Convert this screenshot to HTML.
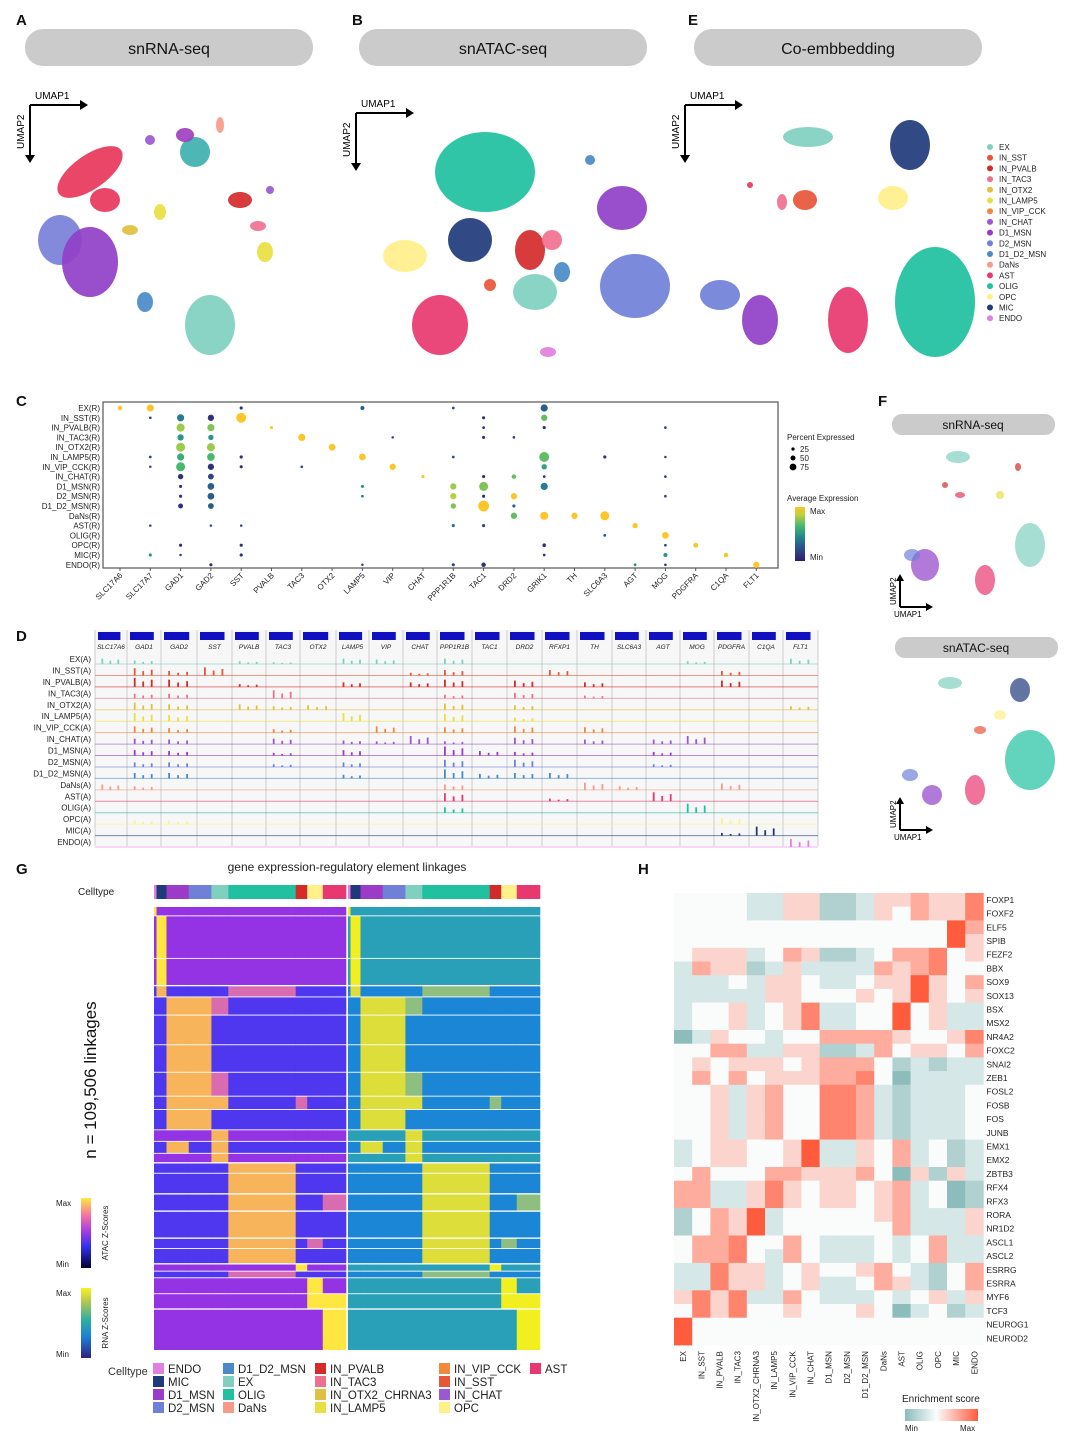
<!DOCTYPE html>
<html><head><meta charset="utf-8">
<style>
html,body{margin:0;padding:0;background:#fff;}
svg{display:block;font-family:"Liberation Sans",Arial,sans-serif;}
</style></head>
<body>
<svg id="fig" width="1080" height="1448" viewBox="0 0 1080 1448" xmlns="http://www.w3.org/2000/svg">
<g font-weight="bold" font-size="15" fill="#111">
<text x="16" y="25">A</text>
<text x="352" y="25">B</text>
<text x="688" y="25">E</text>
<text x="16" y="406">C</text>
<text x="16" y="641">D</text>
<text x="878" y="406">F</text>
<text x="16" y="874">G</text>
<text x="638" y="874">H</text>
</g>
<g font-size="16" text-anchor="middle" fill="#111">
<rect x="25" y="29" width="288" height="37" rx="18" fill="#cbcbcb"/>
<text x="169" y="54">snRNA-seq</text>
<rect x="359" y="29" width="288" height="37" rx="18" fill="#cbcbcb"/>
<text x="503" y="54">snATAC-seq</text>
<rect x="694" y="29" width="288" height="37" rx="18" fill="#cbcbcb"/>
<text x="838" y="54">Co-embbedding</text>
<rect x="892" y="414" width="163" height="21" rx="10" fill="#cbcbcb"/>
<text x="973" y="429" font-size="12">snRNA-seq</text>
<rect x="895" y="637" width="163" height="21" rx="10" fill="#cbcbcb"/>
<text x="976" y="652" font-size="12">snATAC-seq</text>
</g>
<g id="umaps"></g>
<g id="dotplot"></g>
<g id="tracks"></g>
<g id="gheat"></g>
<g id="hheat"></g>
</svg>
<script>
const NS="http://www.w3.org/2000/svg";
function mk(tag,attrs,parent,txt){const e=document.createElementNS(NS,tag);for(const k in attrs)e.setAttribute(k,attrs[k]);if(txt!==undefined)e.textContent=txt;parent.appendChild(e);return e;}
const ctColors={EX:'#80d0c0',IN_SST:'#e8563a',IN_PVALB:'#d42a2a',IN_TAC3:'#f07090',IN_OTX2:'#e0c040',IN_LAMP5:'#e8e040',IN_VIP_CCK:'#f08840',IN_CHAT:'#9b59d0',D1_MSN:'#9b3bc8',D2_MSN:'#7080d8',D1_D2_MSN:'#4a8ac8',DaNs:'#f89a88',AST:'#e83870',OLIG:'#20c0a0',OPC:'#fff08a',MIC:'#1f3a7a',ENDO:'#e080e0'};

/* ---------- UMAPs ---------- */
const umapA=[[90,172,38,17,-35,'#e8365a'],[105,200,15,12,0,'#e8365a'],[60,240,22,25,0,'#7a80d8'],[90,262,28,35,0,'#9040c8'],[210,325,25,30,0,'#80d0c0'],[195,152,15,15,0,'#40b0b0'],[185,135,9,7,0,'#a040c0'],[240,200,12,8,0,'#d42a2a'],[265,252,8,10,0,'#e8e040'],[258,226,8,5,0,'#f07090'],[220,125,4,8,0,'#f89a88'],[145,302,8,10,0,'#4a8ac8'],[160,212,6,8,0,'#e8e040'],[130,230,8,5,0,'#e0c040'],[150,140,5,5,0,'#9b59d0'],[270,190,4,4,0,'#9b59d0']];
const umapB=[[485,172,50,40,0,'#20c0a0'],[470,240,22,22,0,'#1f3a7a'],[622,208,25,22,0,'#9040c8'],[635,286,35,32,0,'#7080d8'],[440,325,28,30,0,'#e83870'],[535,292,22,18,0,'#80d0c0'],[405,256,22,16,0,'#fff08a'],[530,250,15,20,0,'#d42a2a'],[552,240,10,10,0,'#f07090'],[548,352,8,5,0,'#e080e0'],[590,160,5,5,0,'#4a8ac8'],[562,272,8,10,0,'#4a8ac8'],[490,285,6,6,0,'#e8563a']];
const umapE=[[935,302,40,55,0,'#20c0a0'],[910,145,20,25,0,'#1f3a7a'],[808,137,25,10,0,'#80d0c0'],[893,198,15,12,0,'#fff08a'],[720,295,20,15,0,'#7080d8'],[760,320,18,25,0,'#9040c8'],[848,320,20,33,0,'#e83870'],[805,200,12,10,0,'#e8563a'],[750,185,3,3,0,'#e8365a'],[782,202,5,8,0,'#f07090']];
const umapF1=[[958,457,12,6,0,'#80d0c0'],[925,565,14,16,0,'#9040c8'],[912,555,8,6,0,'#7080d8'],[985,580,10,15,0,'#e83870'],[1030,545,15,22,0,'#80d0c0'],[960,495,5,3,0,'#e8365a'],[1000,495,4,4,0,'#e8e040'],[1018,467,3,4,0,'#d42a2a'],[945,485,3,3,0,'#d42a2a']];
const umapF2=[[1020,690,10,12,0,'#1f3a7a'],[950,683,12,6,0,'#80d0c0'],[1030,760,25,30,0,'#20c0a0'],[975,790,10,15,0,'#e83870'],[932,795,10,10,0,'#9040c8'],[910,775,8,6,0,'#7080d8'],[980,730,6,4,0,'#e8563a'],[1000,715,6,5,0,'#fff08a']];
const U=document.getElementById('umaps');
function drawBlobs(list,name,op){const g=mk('g',{},U);


list.forEach(b=>{const e=mk('ellipse',{cx:b[0],cy:b[1],rx:b[2],ry:b[3],transform:`rotate(${b[4]} ${b[0]} ${b[1]})`,fill:b[5],opacity:op},g);

});}
drawBlobs(umapA,'umap-snrna',0.92);drawBlobs(umapB,'umap-snatac',0.92);drawBlobs(umapE,'umap-coembed',0.92);drawBlobs(umapF1,'umap-f-snrna',0.7);drawBlobs(umapF2,'umap-f-snatac',0.7);
function axes(x,y,len,up,fs){const g=mk('g',{stroke:'#000','stroke-width':2},U);


if(!up){mk('line',{x1:x,y1:y,x2:x+len,y2:y},g);mk('line',{x1:x,y1:y,x2:x,y2:y+len},g);
mk('polygon',{points:`${x+len+6},${y} ${x+len-2},${y-5} ${x+len-2},${y+5}`,fill:'#000',stroke:'none'},g);
mk('polygon',{points:`${x},${y+len+6} ${x-5},${y+len-2} ${x+5},${y+len-2}`,fill:'#000',stroke:'none'},g);
const t1=mk('text',{x:x+5,y:y-6,'font-size':fs,stroke:'none',fill:'#000'},U,'UMAP1');


const t2=mk('text',{x:0,y:0,'font-size':fs,stroke:'none',fill:'#000',transform:`translate(${x-6},${y+len-8}) rotate(-90)`},U,'UMAP2');

}
else{mk('line',{x1:x,y1:y,x2:x+len,y2:y},g);mk('line',{x1:x,y1:y,x2:x,y2:y-len},g);
mk('polygon',{points:`${x+len+5},${y} ${x+len-2},${y-4} ${x+len-2},${y+4}`,fill:'#000',stroke:'none'},g);
mk('polygon',{points:`${x},${y-len-5} ${x-4},${y-len+2} ${x+4},${y-len+2}`,fill:'#000',stroke:'none'},g);
const t1=mk('text',{x:x-6,y:y+10,'font-size':fs,stroke:'none',fill:'#000'},U,'UMAP1');


const t2=mk('text',{x:0,y:0,'font-size':fs,stroke:'none',fill:'#000',transform:`translate(${x-4},${y-2}) rotate(-90)`},U,'UMAP2');

}}
axes(30,105,52,false,10);axes(356,113,52,false,10);axes(685,105,52,false,10);
axes(900,607,28,true,8);axes(900,830,28,true,8);
const legNames=['EX','IN_SST','IN_PVALB','IN_TAC3','IN_OTX2','IN_LAMP5','IN_VIP_CCK','IN_CHAT','D1_MSN','D2_MSN','D1_D2_MSN','DaNs','AST','OLIG','OPC','MIC','ENDO'];
legNames.forEach((n,i)=>{const y=147+i*10.7;
const c=mk('circle',{cx:990,cy:y,r:3,fill:ctColors[n]},U);


const t=mk('text',{x:999,y:y+3,'font-size':8,fill:'#222'},U,n);

});

/* ---------- Dot plot C ---------- */
const dpRows=['EX(R)','IN_SST(R)','IN_PVALB(R)','IN_TAC3(R)','IN_OTX2(R)','IN_LAMP5(R)','IN_VIP_CCK(R)','IN_CHAT(R)','D1_MSN(R)','D2_MSN(R)','D1_D2_MSN(R)','DaNs(R)','AST(R)','OLIG(R)','OPC(R)','MIC(R)','ENDO(R)'];
const dpGenes=['SLC17A6','SLC17A7','GAD1','GAD2','SST','PVALB','TAC3','OTX2','LAMP5','VIP','CHAT','PPP1R1B','TAC1','DRD2','GRIK1','TH','SLC6A3','AGT','MOG','PDGFRA','C1QA','FLT1'];
const dpRowIdx=[0,0,0,0,0,0,1,1,1,1,1,1,2,2,2,2,2,2,3,3,3,3,3,3,4,4,4,5,5,5,5,5,5,5,5,5,6,6,6,6,6,6,6,7,7,7,7,7,7,7,8,8,8,8,8,8,9,9,9,9,9,9,9,10,10,10,10,10,11,11,11,11,12,12,12,12,12,12,13,13,14,14,14,14,14,15,15,15,15,15,15,16,16,16,16,16,16,16];
const dpGeneIdx=[0,1,4,8,11,14,1,2,3,4,12,14,2,3,5,12,14,18,2,3,6,9,12,13,2,3,7,1,2,3,4,8,11,14,16,18,1,2,3,4,6,9,14,2,3,10,12,13,14,18,2,3,8,11,12,14,2,3,8,11,12,13,18,2,3,11,12,13,13,14,15,16,1,3,4,11,12,17,16,18,2,4,14,18,19,1,2,4,14,18,20,3,8,11,12,17,18,21];
const dpPct=[30,60,15,25,10,60,10,60,50,90,15,50,70,60,15,10,15,10,50,40,60,8,15,10,80,70,55,10,60,65,15,55,10,90,15,8,8,80,50,15,10,50,40,40,45,15,15,30,10,10,15,55,15,50,80,60,15,55,10,50,15,50,10,35,45,40,100,15,50,70,50,80,8,8,8,15,15,40,10,55,15,15,20,10,35,15,8,15,10,25,30,15,8,15,30,12,10,50];
const dpExpr=[1,1,.1,.3,.2,.3,.2,.4,.1,1,.1,.7,.8,.75,1,.1,.1,.2,.5,.5,1,.2,.1,.2,.8,.8,1,.2,.6,.65,.1,1,.2,.7,.1,.2,.2,.65,.1,.1,.2,1,.55,.1,.2,1,.1,.7,.1,.2,.1,.3,.5,.8,.75,.4,.1,.3,.4,.85,.1,1,.2,.1,.3,.75,1,.3,.7,1,1,1,.2,.2,.2,.35,.2,1,.2,1,.1,.1,.1,.2,1,.5,.2,.1,.1,.5,1,.1,.2,.2,.1,.5,.2,1];
const D=document.getElementById('dotplot');
const dpX=g=>120+g*30.3, dpY=r=>408+r*9.8, dpR=p=>0.9+p*0.045;
const vir=[[0,[48,30,110]],[.25,[44,80,140]],[.45,[35,138,141]],[.65,[70,184,112]],[.85,[184,208,64]],[1,[253,197,40]]];
function viridis(t){for(let i=1;i<vir.length;i++){if(t<=vir[i][0]){const a=vir[i-1],b=vir[i],f=(t-a[0])/(b[0]-a[0]);return 'rgb('+a[1].map((v,k)=>Math.round(v+(b[1][k]-v)*f)).join(',')+')';}}return 'rgb(253,197,40)';}
const fr=mk('rect',{x:103,y:402,width:675,height:166,fill:'none',stroke:'#555','stroke-width':1.2},D);


dpRows.forEach((n,r)=>{const t=mk('text',{x:100,y:dpY(r)+3,'font-size':8,'text-anchor':'end',fill:'#222'},D,n);

});
dpGenes.forEach((n,g)=>{const t=mk('text',{x:0,y:0,'font-size':8,'text-anchor':'end',fill:'#222',transform:`translate(${dpX(g)+3},${576}) rotate(-45)`},D,n);


mk('line',{x1:dpX(g),x2:dpX(g),y1:568,y2:571,stroke:'#555'},D);});
dpPct.forEach((p,i)=>{const c=mk('circle',{cx:dpX(dpGeneIdx[i]),cy:dpY(dpRowIdx[i]),r:dpR(p),fill:viridis(dpExpr[i])},D);

});
mk('text',{x:787,y:440,'font-size':8,fill:'#222'},D,'Percent Expressed');
[25,50,75].forEach((p,i)=>{mk('circle',{cx:793,cy:449+i*9,r:dpR(p)*0.8,fill:'#000'},D);mk('text',{x:800,y:452+i*9,'font-size':8,fill:'#222'},D,String(p));});
mk('text',{x:787,y:501,'font-size':8,fill:'#222'},D,'Average Expression');
const dg=mk('defs',{},D);const lg=mk('linearGradient',{id:'virg',x1:0,y1:1,x2:0,y2:0},dg);
vir.forEach(s=>mk('stop',{offset:s[0],'stop-color':'rgb('+s[1].join(',')+')'},lg));
mk('rect',{x:795,y:507,width:10,height:54,fill:'url(#virg)'},D);
mk('text',{x:810,y:514,'font-size':8,fill:'#222'},D,'Max');mk('text',{x:810,y:560,'font-size':8,fill:'#222'},D,'Min');

/* ---------- Tracks D ---------- */
const T=document.getElementById('tracks');
const trGenes=['SLC17A6','GAD1','GAD2','SST','PVALB','TAC3','OTX2','LAMP5','VIP','CHAT','PPP1R1B','TAC1','DRD2','RFXP1','TH','SLC6A3','AGT','MOG','PDGFRA','C1QA','FLT1'];
const trRows=['EX(A)','IN_SST(A)','IN_PVALB(A)','IN_TAC3(A)','IN_OTX2(A)','IN_LAMP5(A)','IN_VIP_CCK(A)','IN_CHAT(A)','D1_MSN(A)','D2_MSN(A)','D1_D2_MSN(A)','DaNs(A)','AST(A)','OLIG(A)','OPC(A)','MIC(A)','ENDO(A)'];
const trRowKeys=['EX','IN_SST','IN_PVALB','IN_TAC3','IN_OTX2','IN_LAMP5','IN_VIP_CCK','IN_CHAT','D1_MSN','D2_MSN','D1_D2_MSN','DaNs','AST','OLIG','OPC','MIC','ENDO'];
const trPeakSec=[[0,1,4,5,7,8,10,17,20],[1,2,3,9,10,13,18],[1,2,4,7,9,10,12,14,18],[1,2,5,10,12,14],[1,2,4,5,6,10,12,20],[1,2,7,10,12],[1,2,5,8,10,12,14],[1,2,5,7,8,9,10,12,14,16,17],[1,2,5,7,10,11,12,16],[1,2,5,7,10,12,16],[1,2,7,10,11,12,13],[0,1,10,14,15,18],[10,13,16],[10,17],[1,2,18],[18,19],[20]];
const trPeakH=[[.6,.4,.3,.2,.6,.5,.6,.3,.6],[.8,.5,.9,.3,.6,.6,.5],[1,.8,.3,.5,.5,.8,.7,.5,.7],[.5,.5,.9,.4,.6,.3],[.8,.6,.6,.4,.5,.7,.5,.4],[.9,.7,.9,.8,.4],[.7,.5,.4,.7,.6,.7,.6],[.6,.5,.6,.4,.3,.9,.3,.7,.5,.5,.9],[.6,.5,.3,.6,1,.5,.4,.4],[.5,.5,.3,.5,.8,.8,.3],[.6,.6,.4,1,.5,.6,.6],[.6,.4,.6,.8,.4,.7],[.9,.3,1],[.6,1],[.4,.4,.7],[.3,1],[.9]];
const secB=[95,127,161,197,232,266,300,336,369,403,437,472,507,542,577,612,646,680,714,749,783,818];
mk('rect',{x:95,y:630,width:723,height:216,fill:'#f7f7f7'},T);
secB.forEach(x=>mk('line',{x1:x,x2:x,y1:630,y2:846,stroke:'#ccc','stroke-width':1},T));
trGenes.forEach((n,i)=>{const x0=secB[i],x1=secB[i+1],cx=(x0+x1)/2;
const b=mk('rect',{x:x0+3,y:632,width:(x1-x0)*0.7,height:8,fill:'#1010c0'},T);


const t=mk('text',{x:cx,y:649,'font-size':6.5,'font-style':'italic','text-anchor':'middle',fill:'#222'},T,n);

});
const trY=r=>661+r*11.44;
trRows.forEach((n,r)=>{const col=ctColors[trRowKeys[r]];const base=trY(r)+3;
const t=mk('text',{x:91,y:trY(r)+1,'font-size':8,'text-anchor':'end',fill:'#222'},T,n);


mk('line',{x1:95,x2:818,y1:base,y2:base,stroke:col,'stroke-width':1,opacity:.6},T);
trPeakSec[r].forEach((s,k)=>{const h=trPeakH[r][k]*9,x0=secB[s],w=secB[s+1]-x0;
[[.2,1],[.45,.6],[.7,.8]].forEach(q=>{const p=mk('rect',{x:x0+w*q[0],y:base-h*q[1],width:1.8,height:h*q[1],fill:col},T);

});});});

/* ---------- Heatmap G ---------- */
const G=document.getElementById('gheat');
const gGroups=['ENDO','MIC','D1_MSN','D2_MSN','EX','OLIG','IN_PVALB','OPC','AST'];
const gGroupFrac=[0,.013,.065,.181,.299,.387,.738,.798,.879,1];
const gBlockTop=[0,.021,.117,.179,.204,.245,.312,.374,.428,.458,.504,.53,.557,.579,.602,.649,.688,.749,.772,.807,.823,.838,.874,.909];
const gBlockBot=[.019,.115,.176,.202,.243,.31,.372,.426,.456,.502,.528,.555,.576,.6,.646,.685,.746,.77,.804,.821,.836,.872,.906,1];
const gBlockHot=[[0],[1],[1],[1],[2,3],[2,3],[2,3],[2,3],[2,3,4],[2,3],[4],[2,4],[4],[5],[5],[5],[5],[5],[5],[6],[],[7],[7,8],[8]];
const gBlockMid=[[],[],[],[5],[4],[],[],[4],[6],[],[],[],[],[],[],[8],[],[7],[],[],[5],[],[],[]];
const gBlockCold=[0,0,0,1,1,1,1,1,1,1,0,1,0,1,1,1,1,1,1,0,1,0,0,0];
const GX=[154,348],GW=192,GY=907,GH=443;
const pal=[{bg:'#9333e3',cold:'#4f37ef',hot:'#f8b45a',hot2:'#ffe640',mid:'#d96cb0'},{bg:'#2aa0b8',cold:'#1c86d6',hot:'#dede3a',hot2:'#f2ef20',mid:'#8fbf80'}];
mk('text',{x:347,y:871,'font-size':12,'text-anchor':'middle',fill:'#222'},G,'gene expression-regulatory element linkages');
mk('text',{x:78,y:895,'font-size':10,fill:'#222'},G,'Celltype');
[0,1].forEach(p=>{const x0=GX[p];
gGroups.forEach((n,i)=>{const a=gGroupFrac[i],b=gGroupFrac[i+1];
const r=mk('rect',{x:x0+a*GW,y:885,width:(b-a)*GW+.3,height:14,fill:ctColors[n]},G);

});
gBlockTop.forEach((t,k)=>{const y0=GY+t*GH,y1=GY+gBlockBot[k]*GH;
gGroups.forEach((n,i)=>{const a=gGroupFrac[i],b=gGroupFrac[i+1];
let c=gBlockCold[k]?pal[p].cold:pal[p].bg;
if(gBlockMid[k].includes(i))c=pal[p].mid;
if(gBlockHot[k].includes(i))c=(k<3||k>=19)?pal[p].hot2:pal[p].hot;
if(k<3&&i===0&&k>0)c=pal[p].bg;
if(k>=4&&k<=18&&i>=7&&!gBlockHot[k].includes(i)&&!gBlockMid[k].includes(i))c=gBlockCold[k]?pal[p].cold:pal[p].bg;
const r=mk('rect',{x:x0+a*GW,y:y0,width:(b-a)*GW+.3,height:y1-y0,fill:c},G);

});});});
const nt=mk('text',{x:0,y:0,'font-size':17,'text-anchor':'middle',fill:'#111',transform:'translate(96,1080) rotate(-90)'},G,'n = 109,506 linkages');


const gd=mk('defs',{},G);
const ga=mk('linearGradient',{id:'atacg',x1:0,y1:1,x2:0,y2:0},gd);
[['0','#000030'],['.3','#3030f0'],['.55','#b040e0'],['.75','#f870a0'],['1','#ffe840']].forEach(s=>mk('stop',{offset:s[0],'stop-color':s[1]},ga));
const gr=mk('linearGradient',{id:'rnag',x1:0,y1:1,x2:0,y2:0},gd);
[['0','#302080'],['.3','#1a80d8'],['.55','#30b0a0'],['.8','#b0c850'],['1','#f8f020']].forEach(s=>mk('stop',{offset:s[0],'stop-color':s[1]},gr));
mk('rect',{x:81,y:1198,width:10,height:70,fill:'url(#atacg)'},G);
mk('rect',{x:81,y:1288,width:10,height:70,fill:'url(#rnag)'},G);
mk('text',{x:56,y:1206,'font-size':8,fill:'#222'},G,'Max');mk('text',{x:56,y:1267,'font-size':8,fill:'#222'},G,'Min');
mk('text',{x:56,y:1296,'font-size':8,fill:'#222'},G,'Max');mk('text',{x:56,y:1357,'font-size':8,fill:'#222'},G,'Min');
mk('text',{x:0,y:0,'font-size':8,'text-anchor':'middle',fill:'#222',transform:'translate(108,1233) rotate(-90)'},G,'ATAC Z-Scores');
mk('text',{x:0,y:0,'font-size':8,'text-anchor':'middle',fill:'#222',transform:'translate(108,1323) rotate(-90)'},G,'RNA Z-Scores');
mk('text',{x:108,y:1375,'font-size':11,fill:'#333'},G,'Celltype');
const gLeg=[['ENDO','MIC','D1_MSN','D2_MSN'],['D1_D2_MSN','EX','OLIG','DaNs'],['IN_PVALB','IN_TAC3','IN_OTX2_CHRNA3','IN_LAMP5'],['IN_VIP_CCK','IN_SST','IN_CHAT','OPC'],['AST']];
const gLegX=[153,223,315,439,530];
gLeg.forEach((col,ci)=>col.forEach((n,ri)=>{const y=1363+ri*13;const key=n==='IN_OTX2_CHRNA3'?'IN_OTX2':n;
const s=mk('rect',{x:gLegX[ci],y:y,width:11,height:11,fill:ctColors[key]},G);


const t=mk('text',{x:gLegX[ci]+15,y:y+10,'font-size':11.5,fill:'#222'},G,n);

}));

/* ---------- Heatmap H ---------- */
const H=document.getElementById('hheat');
const hCols=['EX','IN_SST','IN_PVALB','IN_TAC3','IN_OTX2_CHRNA3','IN_LAMP5','IN_VIP_CCK','IN_CHAT','D1_MSN','D2_MSN','D1_D2_MSN','DaNs','AST','OLIG','OPC','MIC','ENDO'];
const hRows=['FOXP1','FOXF2','ELF5','SPIB','FEZF2','BBX','SOX9','SOX13','BSX','MSX2','NR4A2','FOXC2','SNAI2','ZEB1','FOSL2','FOSB','FOS','JUNB','EMX1','EMX2','ZBTB3','RFX4','RFX3','RORA','NR1D2','ASCL1','ASCL2','ESRRG','ESRRA','MYF6','TCF3','NEUROG1','NEUROD2'];
const hVals=[
[0,0,0,0,-1,-1,1,1,-2,-2,-1,1,1,2,1,1,3],
[0,0,0,0,-1,-1,1,1,-2,-2,-1,1,0,2,1,1,3],
[0,0,0,0,0,0,0,0,0,0,0,0,0,0,0,4,2],
[0,0,0,0,0,0,0,0,0,0,0,0,0,0,0,4,1],
[0,1,1,1,-1,0,2,1,-2,-2,-1,0,2,2,3,0,1],
[-1,2,1,1,-2,-1,1,-1,-1,-1,-1,2,1,2,3,0,0],
[-1,-1,-1,0,-1,1,1,0,-1,-1,0,1,1,4,1,0,2],
[-1,-1,-1,-1,-1,1,1,0,0,0,1,0,1,4,1,0,1],
[-1,0,0,1,-1,0,1,3,-1,-1,0,0,4,0,1,-1,-1],
[-1,0,0,1,-1,0,1,3,-1,-1,0,0,4,0,1,-1,-1],
[-3,-1,1,0,0,-1,0,0,2,2,2,2,1,0,0,1,3],
[0,0,2,2,-1,-1,1,1,-2,-2,-1,2,0,1,1,0,2],
[0,1,0,1,1,1,0,1,2,2,2,0,-2,-1,-2,-1,-1],
[0,2,0,2,0,1,1,1,2,2,3,0,-3,-1,-1,-1,-1],
[0,0,1,-1,1,2,0,0,3,3,2,-1,-2,-1,-1,-1,0],
[0,0,1,-1,1,2,0,0,3,3,2,-1,-2,-1,-1,-1,0],
[0,0,1,-1,1,2,0,0,3,3,2,-1,-2,-1,-1,-1,0],
[0,0,1,-1,1,2,0,0,3,3,2,-1,-2,-1,-1,-1,0],
[-1,0,1,1,0,0,1,4,-1,-1,1,0,2,-1,0,-2,-1],
[-1,0,1,1,0,0,1,4,-1,-1,1,0,2,-1,0,-2,-1],
[0,2,0,0,0,2,2,1,1,1,2,0,-3,1,-2,1,-1],
[2,2,-1,-1,1,3,1,0,1,1,0,1,2,-1,0,-3,-2],
[2,2,-1,-1,1,3,1,0,1,1,0,1,2,-1,0,-3,-2],
[-2,0,2,1,4,-1,0,0,0,0,0,1,2,-1,-1,-1,1],
[-2,0,2,1,4,-1,0,0,0,0,0,0,2,-1,-1,-1,1],
[0,2,2,3,0,0,2,0,-1,-1,-1,0,-1,0,2,-1,-1],
[0,2,2,3,0,-1,2,0,-1,-1,-1,0,-1,0,2,-1,-1],
[-1,-1,3,1,1,-1,0,1,0,0,1,2,0,-1,-2,0,2],
[-1,-1,3,1,1,-1,0,1,-1,-1,0,2,1,-1,-2,0,2],
[1,3,1,3,-1,-1,2,0,-1,-1,-1,0,-1,0,1,-1,1],
[0,3,1,3,0,0,1,0,0,0,1,0,-3,-1,0,-2,-1],
[4,0,0,0,0,0,0,0,0,0,0,0,0,0,0,0,0],
[4,0,0,0,0,0,0,0,0,0,0,0,0,0,0,0,0]];
const HX=674,HY=893,CW=18.2,RH=13.7;
function hColor(v){const w=[250,252,252];let t,c;if(v<0){t=Math.min(1,-v/3);c=[140,188,188];}else{t=Math.min(1,v/4);c=[255,92,62];}
return 'rgb('+w.map((x,k)=>Math.round(x+(c[k]-x)*t)).join(',')+')';}
hVals.forEach((row,r)=>row.forEach((v,c)=>{const e=mk('rect',{x:HX+c*CW,y:HY+r*RH,width:CW+.3,height:RH+.3,fill:hColor(v)},H);

}));
hRows.forEach((n,r)=>{const t=mk('text',{x:HX+17*CW+3,y:HY+r*RH+RH/2+3,'font-size':8.5,fill:'#222'},H,n);

});
hCols.forEach((n,c)=>{const t=mk('text',{x:0,y:0,'font-size':8,'text-anchor':'end',fill:'#222',transform:`translate(${HX+c*CW+CW/2+3},${HY+33*RH+6}) rotate(-90)`},H,n);

});
const hd=mk('defs',{},H);const hg=mk('linearGradient',{id:'hg',x1:0,y1:0,x2:1,y2:0},hd);
[['0','#8cbcbc'],['.43','#fafcfc'],['1','#ff5c3e']].forEach(s=>mk('stop',{offset:s[0],'stop-color':s[1]},hg));
mk('text',{x:902,y:1402,'font-size':10,fill:'#222'},H,'Enrichment score');
mk('rect',{x:905,y:1409,width:73,height:12,fill:'url(#hg)'},H);
mk('text',{x:905,y:1431,'font-size':8,fill:'#222'},H,'Min');mk('text',{x:960,y:1431,'font-size':8,fill:'#222'},H,'Max');
</script>
</body></html>
